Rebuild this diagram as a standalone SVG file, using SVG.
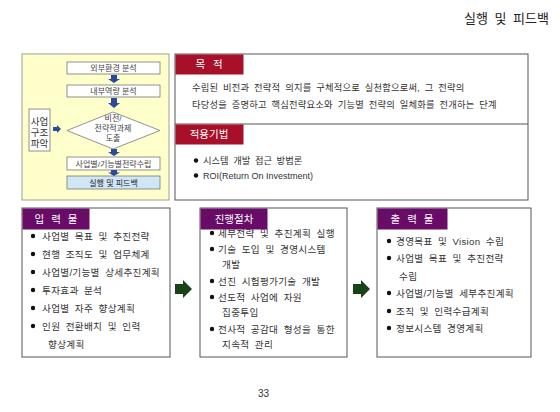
<svg xmlns="http://www.w3.org/2000/svg" width="560" height="412" viewBox="0 0 560 412">
<style>
text{font-family:"Liberation Sans","Noto Sans CJK KR",sans-serif;fill:#333}
.t{font-size:9.3px;word-spacing:2px}
.b{font-size:9.6px;word-spacing:2.5px;letter-spacing:0.3px}
.s{font-size:8px;fill:#444;text-anchor:middle}
.hw{font-size:10.5px;fill:#fff;text-anchor:middle}
.box{fill:#fff;stroke:#555;stroke-width:1}
.ib{fill:#fff;stroke:#777;stroke-width:0.8}
.red{fill:#a8102a}
.pur{fill:#680c68}
.ba{fill:#2d4a9a}
.ga{fill:#164416}
</style>
<rect width="560" height="412" fill="#fff"/>
<text x="549" y="23" style="font-size:13px;fill:#222;word-spacing:3px;text-anchor:end">실행 및 피드백</text>

<g id="flow-panel">
<rect x="22" y="54" width="147" height="146" fill="#ffffcc" stroke="#a0a090" stroke-width="1"/>
<g id="n-ext"><rect class="ib" x="67" y="62" width="93" height="12"/><text class="s" x="113.5" y="71">외부환경 분석</text></g>
<g id="n-int"><rect class="ib" x="67" y="85" width="93" height="12"/><text class="s" x="113.5" y="94">내부역량 분석</text></g>
<g id="n-vision"><polygon class="ib" points="113,112 160,130.5 113,149 67,130.5"/>
<text class="s" x="113" y="121">비전/</text><text class="s" x="113" y="131">전략적과제</text><text class="s" x="113" y="141">도출</text></g>
<g id="n-biz"><rect class="ib" x="67" y="157" width="93" height="13"/><text class="s" x="113.5" y="166.5">사업별/기능별전략수립</text></g>
<g id="n-exec"><rect x="67" y="176" width="93" height="13" fill="#cfe6f6" stroke="#777" stroke-width="0.8"/><text class="s" x="113.5" y="185.5" style="fill:#222">실행 및 피드백</text></g>
<g id="n-struct"><rect class="ib" x="29" y="109" width="21" height="42"/>
<text x="39.5" y="125" style="font-size:9.5px;text-anchor:middle;fill:#333">사업</text>
<text x="39.5" y="136" style="font-size:9.5px;text-anchor:middle;fill:#333">구조</text>
<text x="39.5" y="147" style="font-size:9.5px;text-anchor:middle;fill:#333">파악</text></g>
</g>

<g id="connectors">
<polygon class="ba" points="111,75 117,75 117,79 120,79 114,83 108,79 111,79"/>
<polygon class="ba" points="111,98 117,98 117,103 120,103 114,108 108,103 111,103"/>
<polygon class="ba" points="111,149 117,149 117,152 120,152 114,156 108,152 111,152"/>
<polygon class="ba" points="111,170 117,170 117,172.5 120,172.5 114,176 108,172.5 111,172.5"/>
<polygon class="ba" points="53,127 57,127 57,125 61,129 57,133 57,131 53,131"/>
<polygon class="ga" points="175,284 183,284 183,280 192,289 183,298 183,294 175,294"/>
<polygon class="ga" points="353,284 361,284 361,280 370,289 361,298 361,294 353,294"/>
</g>

<g id="purpose">
<rect class="box" x="175" y="54" width="353" height="146"/>
<line x1="175" y1="124" x2="528" y2="124" stroke="#555" stroke-width="1"/>
<rect class="red" x="175.5" y="54.5" width="68" height="20"/>
<text class="hw" x="209" y="68" style="word-spacing:5px">목 적</text>
<text class="t" x="192" y="91" style="letter-spacing:0.2px">수립된 비전과 전략적 의지를 구체적으로 실천함으로써, 그 전략의</text>
<text class="t" x="192" y="108" style="letter-spacing:0.2px">타당성을 증명하고 핵심전략요소와 기능별 전략의 일체화를 전개하는 단계</text>
</g>
<g id="method">
<rect class="red" x="175.5" y="124.5" width="68" height="20"/>
<text class="hw" x="209" y="138">적용기법</text>
<circle cx="196" cy="160.5" r="2.2" fill="#111"/>
<text class="t" x="203" y="164">시스템 개발 접근 방법론</text>
<circle cx="196" cy="175.5" r="2.2" fill="#111"/>
<text x="203" y="179" style="font-size:9px">ROI(Return On Investment)</text>
</g>

<g id="input">
<rect class="box" x="22" y="208" width="148" height="149"/>
<circle cx="33" cy="236" r="2.2" fill="#111"/><text class="b" x="42" y="239.5">사업별 목표 및 추진전략</text>
<circle cx="33" cy="254" r="2.2" fill="#111"/><text class="b" x="42" y="257.5">현행 조직도 및 업무체계</text>
<circle cx="33" cy="272" r="2.2" fill="#111"/><text class="b" x="42" y="275.5">사업별/기능별 상세추진계획</text>
<circle cx="33" cy="290" r="2.2" fill="#111"/><text class="b" x="42" y="293.5">투자효과 분석</text>
<circle cx="33" cy="308" r="2.2" fill="#111"/><text class="b" x="42" y="311.5">사업별 자주 향상계획</text>
<circle cx="33" cy="326" r="2.2" fill="#111"/><text class="b" x="42" y="329.5">인원 전환배치 및 인력</text>
<text class="b" x="48" y="347.5">향상계획</text>
<rect class="pur" x="22.5" y="208.5" width="67" height="21"/>
<text class="hw" x="56" y="223" style="word-spacing:4px">입 력 물</text>
</g>

<g id="process">
<rect class="box" x="200" y="208" width="147" height="149"/>
<circle cx="212" cy="233" r="2.2" fill="#111"/><text class="b" x="218" y="236.5">세부전략 및 추진계획 실행</text>
<circle cx="212" cy="249" r="2.2" fill="#111"/><text class="b" x="218" y="252.5">기술 도입 및 경영시스템</text>
<text class="b" x="222" y="267.5">개발</text>
<circle cx="212" cy="281" r="2.2" fill="#111"/><text class="b" x="218" y="284.5">선진 시험평가기술 개발</text>
<circle cx="212" cy="297" r="2.2" fill="#111"/><text class="b" x="218" y="300.5">선도적 사업에 자원</text>
<text class="b" x="222" y="315.5">집중투입</text>
<circle cx="212" cy="329" r="2.2" fill="#111"/><text class="b" x="218" y="332.5">전사적 공감대 형성을 통한</text>
<text class="b" x="222" y="347.5">지속적 관리</text>
<rect class="pur" x="200.5" y="208.5" width="67" height="21"/>
<text class="hw" x="234" y="223">진행절차</text>
</g>

<g id="output">
<rect class="box" x="377" y="208" width="154" height="149"/>
<circle cx="389" cy="241" r="2.2" fill="#111"/><text class="b" x="396" y="244.5">경영목표 및 Vision 수립</text>
<circle cx="389" cy="258" r="2.2" fill="#111"/><text class="b" x="396" y="261.5">사업별 목표 및 추진전략</text>
<text class="b" x="399" y="279.5">수립</text>
<circle cx="389" cy="293" r="2.2" fill="#111"/><text class="b" x="396" y="296.5">사업별/기능별 세부추진계획</text>
<circle cx="389" cy="311" r="2.2" fill="#111"/><text class="b" x="396" y="314.5">조직 및 인력수급계획</text>
<circle cx="389" cy="328" r="2.2" fill="#111"/><text class="b" x="396" y="331.5">정보시스템 경영계획</text>
<rect class="pur" x="377.5" y="208.5" width="70" height="21"/>
<text class="hw" x="412" y="223" style="word-spacing:4px">출 력 물</text>
</g>

<text x="258" y="397" style="font-size:10px;fill:#333">33</text>
</svg>
